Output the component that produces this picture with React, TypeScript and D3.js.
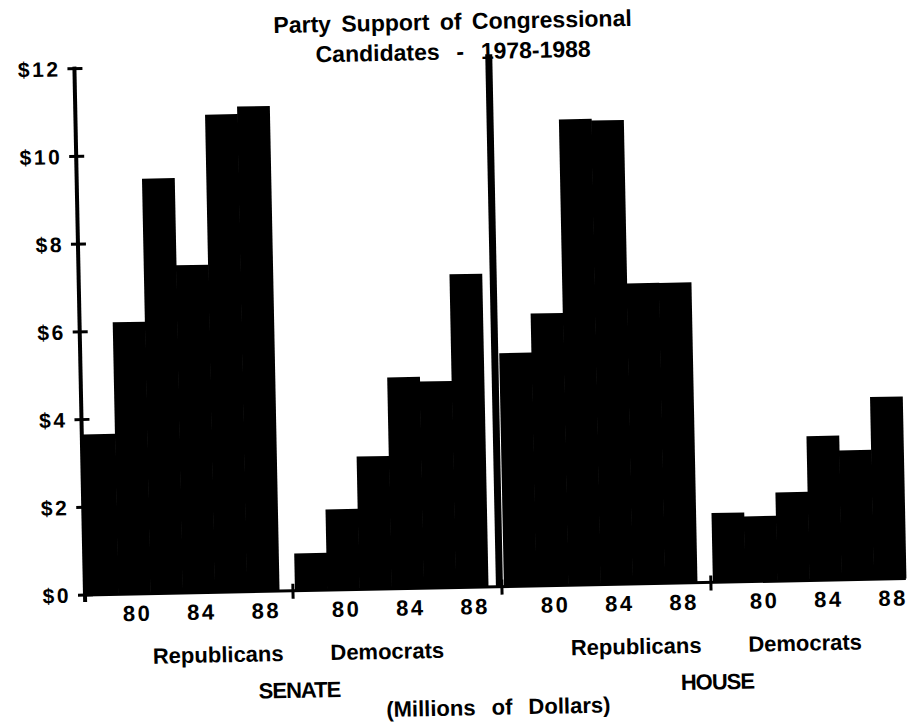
import React from 'react';
import * as d3 from 'd3';

const groups = ['Senate Republicans', 'Senate Democrats', 'House Republicans', 'House Democrats'];
const years = ['78', '80', '82', '84', '86', '88'];
const senateRep = [3.66, 6.2, 9.46, 7.47, 10.89, 11.06];
const senateDem = [0.85, 1.84, 3.03, 4.82, 4.71, 7.14];
const houseRep = [5.32, 6.21, 10.62, 10.58, 6.85, 6.85];
const houseDem = [1.58, 1.49, 2.02, 3.29, 2.95, 4.15];
const yTicks = [0, 2, 4, 6, 8, 10, 12];
const yearLabels = ['80', '84', '88'];
const partyLabels = ['Republicans', 'Democrats', 'Republicans', 'Democrats'];
const chamberLabels = ['SENATE', 'HOUSE'];
const titleLines = ['Party Support of Congressional', 'Candidates  -  1978-1988'];
const unitLabel = '(Millions of Dollars)';

const seriesByGroup = [senateRep, senateDem, houseRep, houseDem];

const W = 909;
const H = 722;
const X0 = 85;
const Y0 = 595;
const FONT = '"Liberation Sans", Arial, Helvetica, sans-serif';

export default function App() {
  const y = d3.scaleLinear().domain([0, 12]).range([Y0, 68.5]);
  const xGroup = d3.scaleBand<string>().domain(groups).range([86, 906]).paddingInner(0.0766).paddingOuter(0);
  const band = xGroup.bandwidth();
  const xYear = d3.scaleBand<string>().domain(years).range([0, band]).padding(0);
  const bw = xYear.bandwidth();

  const partyX = (i: number) => (xGroup(groups[i]) as number) + (i % 2 === 0 ? 131 : 91);

  return (
    <svg width={W} height={H} style={{ position: 'absolute', left: 0, top: 0, background: '#fff' }} fontFamily={FONT}>
      <rect x={0} y={0} width={W} height={H} fill="#fff" />
      <g transform={`rotate(-1.15, ${X0}, ${Y0})`}>
        {/* title */}
        {titleLines.map((t, i) => (
          <text key={t} x={464} y={37 + i * 30} textAnchor="middle" fontSize={23} fontWeight="bold"
            style={{ whiteSpace: 'pre', wordSpacing: i === 0 ? 4 : 2 }} fill="#000">{t}</text>
        ))}

        {/* bars */}
        {groups.map((g, gi) => (
          <g key={g} transform={`translate(${xGroup(g)},0)`}>
            {seriesByGroup[gi].map((v, i) => (
              <rect key={years[i]} x={xYear(years[i])} y={y(v)} width={bw + 0.6} height={Y0 - y(v)} fill="#000" />
            ))}
          </g>
        ))}

        {/* divider between Senate and House */}
        <rect x={(xGroup(groups[2]) as number) - 8} y={y(12) - 6} width={7} height={Y0 - y(12) + 6} fill="#000" />

        {/* y axis */}
        <line x1={X0} x2={X0} y1={y(12) - 2} y2={Y0 + 7} stroke="#000" strokeWidth={4} />
        {yTicks.map((t) => (
          <g key={t}>
            <line x1={X0 - 7} x2={X0 + 8} y1={y(t)} y2={y(t)} stroke="#000" strokeWidth={3} />
            <text x={X0 - 14} y={y(t)} dy="0.36em" textAnchor="end" fontSize={21} fontWeight="bold"
              letterSpacing={2.5} fill="#000">{`$${t}`}</text>
          </g>
        ))}

        {/* x axis */}
        <line x1={X0} x2={906} y1={Y0} y2={Y0} stroke="#000" strokeWidth={3} />
        {groups.slice(1).map((g) => (
          <line key={g} x1={(xGroup(g) as number) - 2} x2={(xGroup(g) as number) - 2} y1={Y0 - 7} y2={Y0 + 8}
            stroke="#000" strokeWidth={3} />
        ))}

        {/* year labels */}
        {groups.map((g) =>
          yearLabels.map((yl) => (
            <text key={g + yl} x={(xGroup(g) as number) + (xYear(yl) as number) + bw / 2 + 3} y={622}
              textAnchor="middle" fontSize={22} fontWeight="bold" letterSpacing={2.5} fill="#000">{yl}</text>
          ))
        )}

        {/* party labels */}
        {partyLabels.map((p, i) => (
          <text key={i} x={partyX(i)} y={665} textAnchor="middle" fontSize={22} fontWeight="bold" fill="#000">{p}</text>
        ))}

        {/* chamber labels */}
        {chamberLabels.map((c, i) => (
          <text key={c} x={(partyX(i * 2) + partyX(i * 2 + 1)) / 2 - 4} y={702} textAnchor="middle" fontSize={22}
            fontWeight="bold" letterSpacing={-1} fill="#000">{c}</text>
        ))}

        <text x={(86 + 906) / 2} y={723} textAnchor="middle" fontSize={22} fontWeight="bold"
          style={{ wordSpacing: 10 }} fill="#000">{unitLabel}</text>
      </g>
    </svg>
  );
}
